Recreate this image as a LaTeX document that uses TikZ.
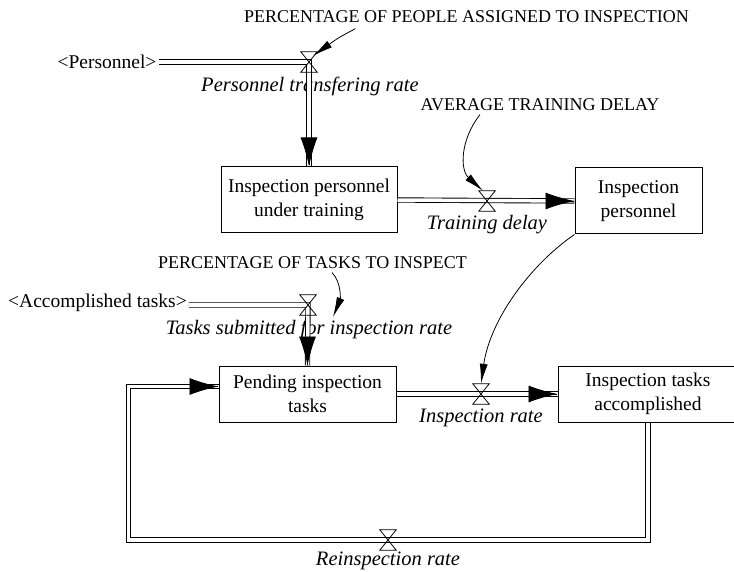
\documentclass[tikz,border=0pt]{standalone}
\usepackage{fontspec}
\setmainfont{Liberation Serif}
\usepackage{tikz}
\usetikzlibrary{positioning}
\usetikzlibrary{arrows.meta}
\tikzset{stock/.style={draw, line width=1pt, align=center, inner sep=0pt, font=\fontsize{19.5}{24}\selectfont}}
\tikzset{flow/.style={double, double distance=3.5pt, line width=0.9pt}}
\tikzset{flowtip/.style={-{Latex[length=29pt,width=17pt]}, line width=0.9pt}}
\tikzset{infoarrow/.style={-{Latex[length=20pt,width=8pt]}, line width=0.8pt}}
\tikzset{valve/.style={inner sep=0pt, minimum width=16pt, minimum height=20pt}}
\tikzset{ratelabel/.style={font=\fontsize{20.5}{24}\selectfont\itshape}}
\tikzset{auxlabel/.style={font=\fontsize{18}{22}\selectfont}}
\tikzset{srclabel/.style={font=\fontsize{19.5}{24}\selectfont, inner sep=2pt}}

\begin{document}
\begin{tikzpicture}[x=1pt,y=-1pt]
\useasboundingbox (0,0) rectangle (734,572);
% stocks
\node[stock, minimum width=176pt, minimum height=66pt] (training) at (309,200) {Inspection personnel\\under training};
\node[stock, minimum width=127pt, minimum height=66pt] (personnel) at (638.5,201) {Inspection\\personnel};
\node[stock, minimum width=177pt, minimum height=56pt] (pending) at (307.5,394) {Pending inspection\\tasks};
\node[stock, minimum width=180pt, minimum height=56pt] (accomplished) at (648,394) {Inspection tasks\\accomplished};
% valves
\node[valve] (transfer) at (309,62) {};
\node[valve] (delay) at (487,201) {};
\node[valve] (submit) at (308,305) {};
\node[valve] (inspect) at (481,394) {};
\node[valve] (reinspect) at (388,540) {};
% sources
\node[srclabel] (srcpersonnel) at (107,62) {\textless Personnel\textgreater};
\node[srclabel] (srctasks) at (97.5,303) {\textless Accomplished tasks\textgreater};
% rate names
\node[ratelabel] (transferlabel) at (310,86) {Personnel transfering rate};
\node[ratelabel] (delaylabel) at (487,225) {Training delay};
\node[ratelabel] (submitlabel) at (309,329) {Tasks submitted for inspection rate};
\node[ratelabel] (inspectlabel) at (481,418) {Inspection rate};
\node[ratelabel] (reinspectlabel) at (388,561) {Reinspection rate};
% constants
\node[auxlabel] (pctpeople) at (466.5,17) {PERCENTAGE OF PEOPLE ASSIGNED TO INSPECTION};
\node[auxlabel] (avgdelay) at (540,105) {AVERAGE TRAINING DELAY};
\node[auxlabel] (pcttasks) at (312.5,263) {PERCENTAGE OF TASKS TO INSPECT};
\coordinate (taskstip) at (333,317);
\coordinate (loopcorner) at (128.5,540);
% flows
\draw[flow] (srcpersonnel.east |- transfer) -- (transfer.center) -- (training.north);
\draw[flow] (training.east) -- (personnel.west);
\draw[flow] (srctasks.east |- submit) -- (submit.center) -- (pending.north);
\draw[flow] (pending.east) -- (accomplished.west);
\draw[flow] (accomplished.south) |- (loopcorner) |- ([yshift=7.5pt]pending.west);
\draw[flowtip] ([yshift=1pt]training.north) -- (training.north);
\draw[flowtip] ([xshift=-1pt]personnel.west) -- (personnel.west);
\draw[flowtip] ([yshift=1pt]pending.north) -- (pending.north);
\draw[flowtip] ([xshift=-1pt]accomplished.west) -- (accomplished.west);
\draw[flowtip] ([xshift=-1pt,yshift=7.5pt]pending.west) -- ([yshift=7.5pt]pending.west);
\foreach \v in {transfer,delay,submit,inspect,reinspect}
  \draw[line width=0.8pt] (\v.north west) -- (\v.north east) -- (\v.south west) -- (\v.south east) -- cycle;
% information links
\draw[infoarrow] ([xshift=-111pt,yshift=-2pt]pctpeople.south) .. controls (338,38) .. ([xshift=-4pt,yshift=-4pt]transfer.north east);
\draw[infoarrow] ([xshift=-60pt]avgdelay.south) .. controls (460,140) and (460,170) .. ([xshift=-4pt]delay.north);
\draw[infoarrow] (personnel.south west) .. controls (530,265) and (490,320) .. (inspect.north);
\draw[infoarrow] ([xshift=19.5pt]pcttasks.south) .. controls (342,283) and (340,300) .. (taskstip);
\end{tikzpicture}
\end{document}
